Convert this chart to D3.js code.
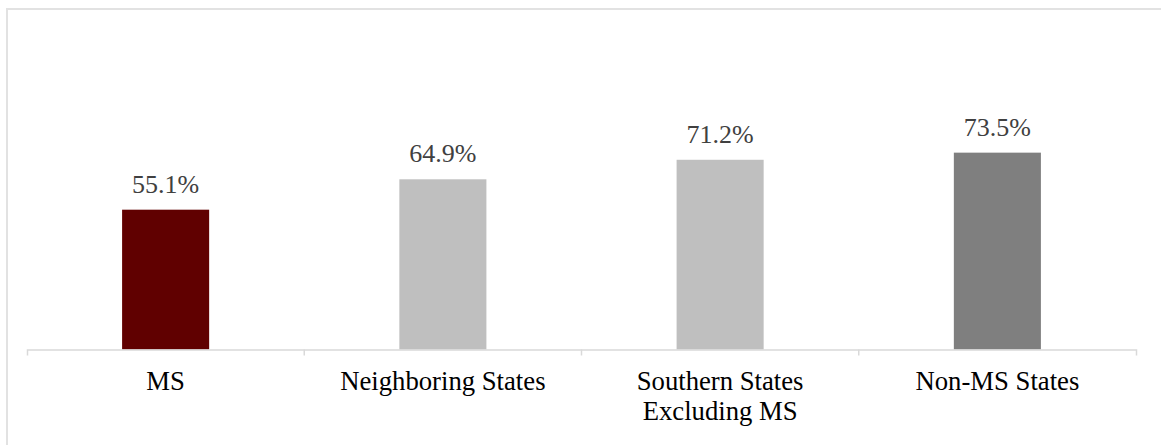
<!DOCTYPE html>
<html>
<head>
<meta charset="utf-8">
<script src="https://cdn.jsdelivr.net/npm/d3@7"></script>
<style>
  body { margin: 0; background: #fff; }
  svg { display: block; }
</style>
</head>
<body>
<div id="chart"></div>
<script>
// Chart values
const categories = ["MS", "Neighboring States", "Southern States\nExcluding MS", "Non-MS States"];
const values = [55.1, 64.9, 71.2, 73.5];
const barColors = ["#600000", "#bfbfbf", "#bfbfbf", "#7f7f7f"];
const yDomain = [10, 100];

const width = 1161, height = 445;
const margin = { top: 70.5, right: 25, bottom: 95.5, left: 27 };

const svg = d3.select("#chart")
    .append("svg")
    .attr("width", width)
    .attr("height", height);

// Light frame around the chart (only top and left edges are visible)
svg.append("rect")
    .attr("x", 7)
    .attr("y", 9)
    .attr("width", width + 20)
    .attr("height", height + 20)
    .attr("fill", "#fff")
    .attr("stroke", "#e2e2e2")
    .attr("stroke-width", 2);

const x = d3.scaleBand()
    .domain(categories)
    .range([margin.left, width - margin.right])
    .padding(0);

const y = d3.scaleLinear()
    .domain(yDomain)
    .range([height - margin.bottom, margin.top]);

const barWidth = x.bandwidth() * 0.314;

// Bars
svg.selectAll("rect.bar")
    .data(categories)
    .enter()
    .append("rect")
    .attr("class", "bar")
    .attr("x", d => x(d) + (x.bandwidth() - barWidth) / 2)
    .attr("y", (d, i) => y(values[i]))
    .attr("width", barWidth)
    .attr("height", (d, i) => y(yDomain[0]) - y(values[i]))
    .attr("fill", (d, i) => barColors[i]);

// Value labels
svg.selectAll("text.value")
    .data(categories)
    .enter()
    .append("text")
    .attr("class", "value")
    .attr("x", d => x(d) + x.bandwidth() / 2)
    .attr("y", (d, i) => y(values[i]) - 17)
    .attr("text-anchor", "middle")
    .style("font-family", "'Liberation Serif', 'Times New Roman', serif")
    .style("font-size", "26px")
    .style("fill", "#404040")
    .text((d, i) => values[i].toFixed(1) + "%");

// X axis: baseline with outer ticks, plus ticks between categories
const axis = svg.append("g")
    .attr("transform", `translate(0,${y(yDomain[0])})`)
    .call(d3.axisBottom(x).tickSize(0).tickSizeOuter(6).tickFormat(""));
axis.select(".domain").attr("stroke", "#d9d9d9").attr("stroke-width", 1.5);

axis.selectAll("line.sep")
    .data(categories.slice(1))
    .enter()
    .append("line")
    .attr("class", "sep")
    .attr("x1", d => x(d))
    .attr("x2", d => x(d))
    .attr("y1", 0)
    .attr("y2", 6)
    .attr("stroke", "#d9d9d9")
    .attr("stroke-width", 1.5);

// Category labels (may wrap onto two lines)
const labels = svg.selectAll("text.cat")
    .data(categories)
    .enter()
    .append("text")
    .attr("class", "cat")
    .attr("x", d => x(d) + x.bandwidth() / 2)
    .attr("y", 390)
    .attr("text-anchor", "middle")
    .style("font-family", "'Liberation Serif', 'Times New Roman', serif")
    .style("font-size", "26.7px")
    .style("fill", "#000");

labels.each(function(d) {
    const t = d3.select(this);
    d.split("\n").forEach((line, i) => {
        t.append("tspan")
            .attr("x", x(d) + x.bandwidth() / 2)
            .attr("dy", i === 0 ? 0 : 30)
            .text(line);
    });
});
</script>
</body>
</html>
